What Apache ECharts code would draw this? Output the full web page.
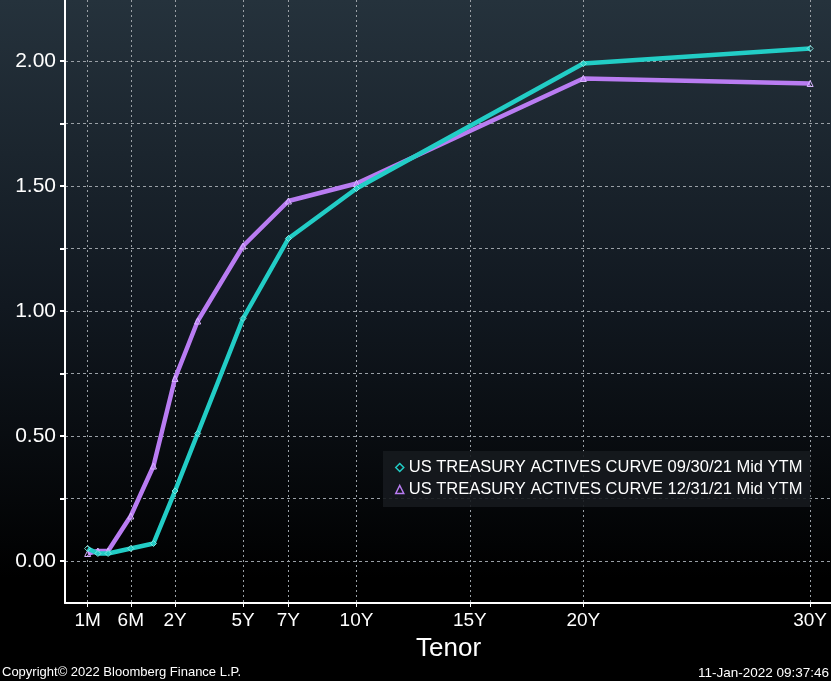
<!DOCTYPE html>
<html>
<head>
<meta charset="utf-8">
<script src="https://cdn.jsdelivr.net/npm/echarts@6/dist/echarts.min.js"></script>
<style>
html,body{margin:0;padding:0;background:#000;}
#c{width:831px;height:681px;}
</style>
</head>
<body>
<div id="c"></div>
<script>
// Tenors and their positions on the (Bloomberg-style) tenor axis
const tenors   = ['1M','2M','3M','6M','1Y','2Y','3Y','5Y','7Y','10Y','20Y','30Y'];
const tenorPos = [-1.85,-1.4,-0.95,0.05,1.05,2,3,5,7,10,20,30];
// Yields (Mid YTM, %)
const curveSep = [0.05,0.03,0.03,0.05,0.07,0.28,0.51,0.97,1.29,1.49,1.99,2.05];
const curveDec = [0.03,0.04,0.04,0.18,0.38,0.73,0.96,1.26,1.44,1.51,1.93,1.91];
const seriesNames = ['US TREASURY ACTIVES CURVE 09/30/21 Mid YTM','US TREASURY ACTIVES CURVE 12/31/21 Mid YTM'];
// Axis tick labels
const xTickPos    = [-1.85,0.05,2,5,7,10,15,20,30];
const xTickLabels = ['1M','6M','2Y','5Y','7Y','10Y','15Y','20Y','30Y'];
const yLabelVals  = [0,0.5,1,1.5,2];
const yGridVals   = [0,0.25,0.5,0.75,1,1.25,1.5,1.75,2];

const CYAN = '#22cdc6', PURPLE = '#b97cf2';
const CYAN_M = '#7fe8e2', PURPLE_M = '#d9b5ff';
const FONT = 'Liberation Sans';

const chart = echarts.init(document.getElementById('c'));
const pair = arr => tenorPos.map((p,i)=>[p,arr[i]]);

chart.setOption({
  backgroundColor: new echarts.graphic.LinearGradient(0,0,0,1,[
    {offset:0,color:'#25323c'},{offset:0.45,color:'#111820'},{offset:0.85,color:'#000000'},{offset:1,color:'#000000'}
  ]),
  animation:false,
  grid:{left:65,right:0,top:0,bottom:78,containLabel:false},
  xAxis:{
    type:'value', min:-2.85, max:30.92,
    axisLine:{show:true,onZero:false,lineStyle:{color:'#fff',width:2}},
    axisTick:{show:true,customValues:xTickPos,length:4,lineStyle:{color:'#fff'}},
    axisLabel:{customValues:xTickPos,color:'#fff',fontSize:19,fontFamily:FONT,margin:8,
      formatter:v=>{const i=xTickPos.findIndex(p=>Math.abs(p-v)<1e-6);return i>=0?xTickLabels[i]:'';}},
    splitLine:{show:true,lineStyle:{color:'#9aa0a6',type:[2,3],width:1}}
  },
  yAxis:{
    type:'value', min:-0.168, max:2.244,
    axisLine:{show:true,onZero:false,lineStyle:{color:'#fff',width:2}},
    axisTick:{show:true,customValues:yGridVals,length:5,lineStyle:{color:'#fff',width:2}},
    axisLabel:{customValues:yLabelVals,color:'#fff',fontSize:21,fontFamily:FONT,margin:9,
      formatter:v=>v.toFixed(2)},
    splitLine:{show:true,lineStyle:{color:'#9aa0a6',type:[3,3],width:1}}
  },
  legend:{
    orient:'vertical', left:383, top:451,
    backgroundColor:'rgba(22,26,30,0.9)',
    padding:[8,8,9,12], itemGap:5, itemWidth:8, itemHeight:8,
    textStyle:{color:'#fff',fontSize:16.5,fontFamily:FONT},
    data:[
      {name:seriesNames[0],icon:'diamond',itemStyle:{color:'rgba(0,0,0,0)',borderColor:CYAN,borderWidth:1.5}},
      {name:seriesNames[1],icon:'triangle',itemStyle:{color:'rgba(0,0,0,0)',borderColor:PURPLE,borderWidth:1.5}}
    ]
  },
  series:[
    {name:seriesNames[0],type:'line',data:pair(curveSep),symbol:'diamond',symbolSize:6,
      lineStyle:{color:CYAN,width:4.5},itemStyle:{color:'rgba(0,0,0,0)',borderColor:CYAN_M,borderWidth:1},z:3},
    {name:seriesNames[1],type:'line',data:pair(curveDec),symbol:'triangle',symbolSize:6,
      lineStyle:{color:PURPLE,width:4.5},itemStyle:{color:'rgba(0,0,0,0)',borderColor:PURPLE_M,borderWidth:1},z:2}
  ],
  graphic:[
    {type:'text',left:416,top:636,style:{text:'Tenor',fill:'#fff',font:'26px "Liberation Sans"'}},
    {type:'text',left:2,top:666,style:{text:'Copyright\u00a9 2022 Bloomberg Finance L.P.',fill:'#fff',font:'13px "Liberation Sans"'}},
    {type:'text',right:2,top:666,style:{text:'11-Jan-2022 09:37:46',fill:'#fff',font:'13.5px "Liberation Sans"'}}
  ]
});
</script>
</body>
</html>
